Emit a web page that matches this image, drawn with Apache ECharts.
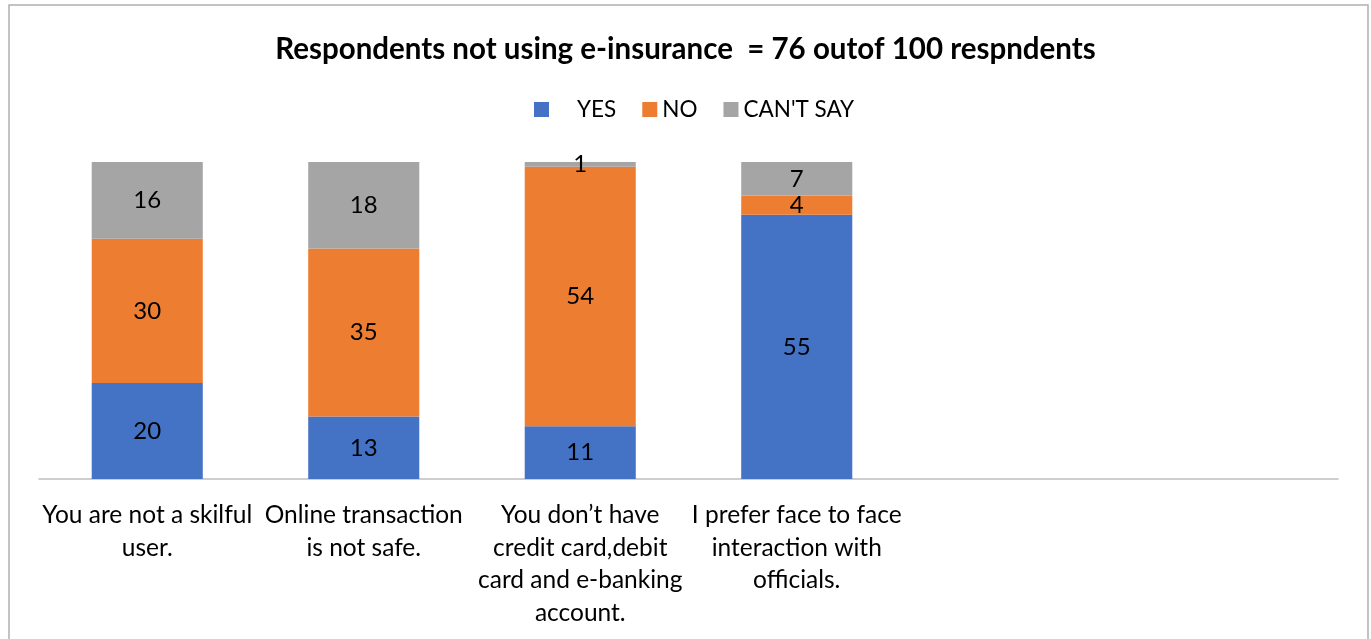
<!DOCTYPE html>
<html>
<head>
<meta charset="utf-8">
<script src="https://cdn.jsdelivr.net/npm/echarts@6/dist/echarts.min.js"></script>
<style>
html,body{margin:0;padding:0;background:#fff;}
#chart{width:1371px;height:639px;}
</style>
</head>
<body>
<div id="chart"></div>
<script>
const categories = [
  "You are not a skilful\nuser.",
  "Online transaction\nis not safe.",
  "You don’t have\ncredit card,debit\ncard and e-banking\naccount.",
  "I prefer face to face\ninteraction with\nofficials.",
  "",
  ""
];
const yesValues = [20, 13, 11, 55];
const noValues = [30, 35, 54, 4];
const cantSayValues = [16, 18, 1, 7];

const FONT = 'Lato';
const chart = echarts.init(document.getElementById('chart'), null, {renderer: 'canvas'});
const labelStyle = {show: true, position: 'inside', color: '#000', fontSize: 24, fontFamily: FONT};
function mk(name, data, color) {
  return {
    name: name, type: 'bar', stack: 'total', data: data, barWidth: '51.3%',
    itemStyle: {color: color}, label: labelStyle, silent: true
  };
}
chart.setOption({
  animation: false,
  title: {
    text: 'Respondents not using e-insurance  = 76 outof 100 respndents',
    left: 'center', top: 29,
    textStyle: {fontFamily: FONT, fontWeight: 'bold', fontSize: 29.5, color: '#000'}
  },
  legend: {
    top: 93, left: 529, itemWidth: 15, itemHeight: 15, itemGap: 26,
    icon: 'rect',
    formatter: function (n) { return n === 'YES' ? '    YES' : n; },
    textStyle: {fontFamily: FONT, fontSize: 22.5, color: '#000'},
    data: ['YES', 'NO', "CAN'T SAY"]
  },
  grid: {left: 39, right: 33, top: 162, bottom: 160, containLabel: false},
  xAxis: {
    type: 'category', data: categories,
    axisLine: {lineStyle: {color: '#bfbfbf', width: 1.5}},
    axisTick: {show: false},
    axisLabel: {interval: 0, color: '#000', fontFamily: FONT, fontSize: 24.5, lineHeight: 32.5, margin: 20}
  },
  yAxis: {type: 'value', min: 0, max: 66, show: false, splitLine: {show: false}},
  graphic: [{
    type: 'rect', shape: {x: 9, y: 5, width: 1359, height: 650},
    style: {fill: null, stroke: '#b0b0b0', lineWidth: 1.5}, silent: true
  }],
  series: [
    mk('YES', yesValues, '#4472c4'),
    mk('NO', noValues, '#ed7d31'),
    mk("CAN'T SAY", cantSayValues, '#a5a5a5')
  ]
});
</script>
</body>
</html>
